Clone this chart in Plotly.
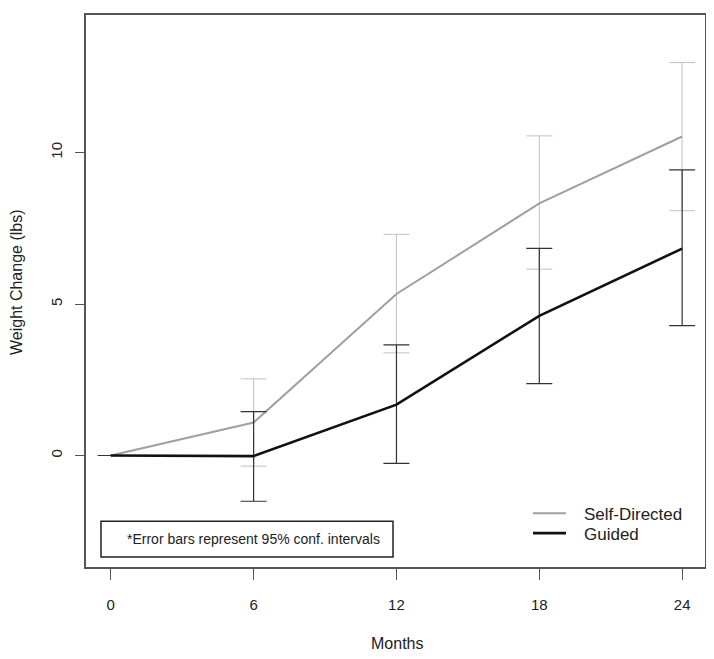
import plotly.graph_objects as go

months = [0, 6, 12, 18, 24]
self_directed = [0, 1.09, 5.33, 8.32, 10.53]
self_upper = [0, 2.53, 7.30, 10.55, 12.97]
self_lower = [0, -0.35, 3.39, 6.15, 8.08]
guided = [0, -0.02, 1.68, 4.61, 6.83]
guided_upper = [None, 1.45, 3.65, 6.84, 9.43]
guided_lower = [None, -1.51, -0.26, 2.37, 4.29]
x_ticks = [0, 6, 12, 18, 24]
y_ticks = [0, 5, 10]
series_names = ["Self-Directed", "Guided"]
series_colors = ["#a0a0a0", "#111111"]
series_widths = [2, 2.6]


def err(up, lo, mid):
    plus = [None if u is None else u - m for u, m in zip(up, mid)]
    minus = [None if l is None else m - l for l, m in zip(lo, mid)]
    return plus, minus


sp, sm = err(self_upper, self_lower, self_directed)
gp, gm = err(guided_upper, guided_lower, guided)

FONT = "Liberation Sans, Arial, Helvetica, sans-serif"
TXT = "#222222"

# page body has an 8px margin; figure is sized so the plot area lands at
# x 86..705, y 13..567 in the 714x659 window
W, H = 706, 651
ML, MR, MT, MB = 78, 9, 5, 92
PW, PH = W - ML - MR, H - MT - MB


def px(x):
    return (x - 8 - ML) / PW


def py(y):
    return (H - MB - (y - 8)) / PH


fig = go.Figure()
fig.add_trace(go.Scatter(
    x=months, y=self_directed, mode="lines", name=series_names[0],
    line=dict(color=series_colors[0], width=series_widths[0]),
    error_y=dict(type="data", symmetric=False, array=sp, arrayminus=sm,
                 color="#c2c2c2", thickness=1, width=13),
))
fig.add_trace(go.Scatter(
    x=months, y=guided, mode="lines", name=series_names[1],
    line=dict(color=series_colors[1], width=series_widths[1]),
    error_y=dict(type="data", symmetric=False, array=gp, arrayminus=gm,
                 color="#333333", thickness=1.2, width=13),
))

fig.update_layout(
    width=W, height=H,
    margin=dict(l=ML, r=MR, t=MT, b=MB),
    paper_bgcolor="white", plot_bgcolor="white",
    font=dict(family=FONT, size=15, color=TXT),
    showlegend=False,
    xaxis=dict(range=[-1.04, 24.96], tickvals=x_ticks, ticktext=[str(v) for v in x_ticks],
               showgrid=False, zeroline=False, showline=True, mirror=True,
               linecolor="#555555", linewidth=1.5, ticks="outside", ticklen=11,
               tickcolor="#555555", tickwidth=1, ticklabelstandoff=12,
               tickfont=dict(size=15)),
    yaxis=dict(range=[-3.68, 14.54], tickvals=y_ticks, ticktext=[str(v) for v in y_ticks],
               showgrid=False, zeroline=False, showline=True, mirror=True,
               linecolor="#555555", linewidth=1.5, ticks="outside", ticklen=9,
               tickcolor="#555555", tickwidth=1, tickangle=-90, ticklabelstandoff=7,
               tickfont=dict(size=15)),
)

# legend (drawn like R's borderless legend)
for i, (name, col, wd) in enumerate(zip(series_names, series_colors, series_widths)):
    ly = 513 + 20 * i
    fig.add_shape(type="line", xref="paper", yref="paper",
                  x0=px(533), x1=px(566), y0=py(ly), y1=py(ly),
                  line=dict(color=col, width=wd))
    fig.add_annotation(text=name, xref="paper", yref="paper",
                       x=px(582), y=py(ly + 1.5), xanchor="left", yanchor="middle",
                       showarrow=False, font=dict(size=17, family=FONT, color=TXT))

# footnote box
fig.add_shape(type="rect", xref="paper", yref="paper",
              x0=px(101), x1=px(393), y0=py(557), y1=py(521),
              line=dict(color="#222222", width=1.5), fillcolor="white")
fig.add_annotation(text="*Error bars represent 95% conf. intervals", xref="paper", yref="paper",
                   x=px(125), y=py(539), xanchor="left", yanchor="middle",
                   showarrow=False, font=dict(size=14, family=FONT, color=TXT))

# axis titles
fig.add_annotation(text="Months", xref="paper", yref="paper",
                   x=px(397), y=py(644), xanchor="center", yanchor="middle",
                   showarrow=False, font=dict(size=16, family=FONT, color=TXT))
fig.add_annotation(text="Weight Change (lbs)", xref="paper", yref="paper",
                   x=px(16), y=py(281), xanchor="center", yanchor="middle",
                   textangle=-90, showarrow=False, font=dict(size=16, family=FONT, color=TXT))

fig.write_html("out.html")
